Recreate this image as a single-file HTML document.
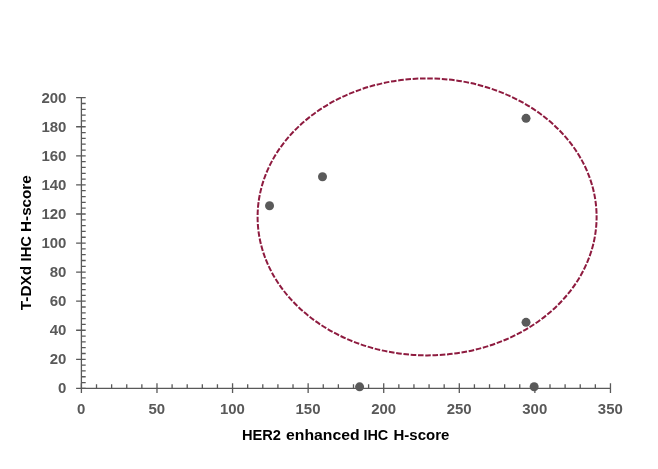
<!DOCTYPE html>
<html lang="en">
<head>
<meta charset="utf-8">
<title>HER2 enhanced IHC H-score vs T-DXd IHC H-score</title>
<style>
html,body{margin:0;padding:0;background:#fff;}
body{width:658px;height:469px;overflow:hidden;}
svg{display:block;}
text{font-family:"Liberation Sans",sans-serif;font-weight:bold;}
.tick{font-size:14.3px;fill:#595959;}
.title{font-size:15.3px;fill:#000;}
</style>
</head>
<body>
<svg width="658" height="469" viewBox="0 0 658 469">
<rect x="0" y="0" width="658" height="469" fill="#ffffff"/>
<g stroke="#595959" stroke-width="1.3" fill="none">
<line x1="81.40" y1="97.70" x2="81.40" y2="388.40"/>
<line x1="81.40" y1="388.40" x2="610.46" y2="388.40"/>
<path d="M76.10 388.40H85.70M81.40 382.59H85.70M81.40 376.77H85.70M81.40 370.96H85.70M81.40 365.14H85.70M76.10 359.33H85.70M81.40 353.52H85.70M81.40 347.70H85.70M81.40 341.89H85.70M81.40 336.07H85.70M76.10 330.26H85.70M81.40 324.45H85.70M81.40 318.63H85.70M81.40 312.82H85.70M81.40 307.00H85.70M76.10 301.19H85.70M81.40 295.38H85.70M81.40 289.56H85.70M81.40 283.75H85.70M81.40 277.93H85.70M76.10 272.12H85.70M81.40 266.31H85.70M81.40 260.49H85.70M81.40 254.68H85.70M81.40 248.86H85.70M76.10 243.05H85.70M81.40 237.24H85.70M81.40 231.42H85.70M81.40 225.61H85.70M81.40 219.79H85.70M76.10 213.98H85.70M81.40 208.17H85.70M81.40 202.35H85.70M81.40 196.54H85.70M81.40 190.72H85.70M76.10 184.91H85.70M81.40 179.10H85.70M81.40 173.28H85.70M81.40 167.47H85.70M81.40 161.65H85.70M76.10 155.84H85.70M81.40 150.03H85.70M81.40 144.21H85.70M81.40 138.40H85.70M81.40 132.58H85.70M76.10 126.77H85.70M81.40 120.96H85.70M81.40 115.14H85.70M81.40 109.33H85.70M81.40 103.51H85.70M76.10 97.70H85.70M81.40 383.30V393.10M96.52 384.20V388.40M111.63 384.20V388.40M126.75 384.20V388.40M141.86 384.20V388.40M156.98 383.30V393.10M172.10 384.20V388.40M187.21 384.20V388.40M202.33 384.20V388.40M217.44 384.20V388.40M232.56 383.30V393.10M247.68 384.20V388.40M262.79 384.20V388.40M277.91 384.20V388.40M293.02 384.20V388.40M308.14 383.30V393.10M323.26 384.20V388.40M338.37 384.20V388.40M353.49 384.20V388.40M368.60 384.20V388.40M383.72 383.30V393.10M398.84 384.20V388.40M413.95 384.20V388.40M429.07 384.20V388.40M444.18 384.20V388.40M459.30 383.30V393.10M474.42 384.20V388.40M489.53 384.20V388.40M504.65 384.20V388.40M519.76 384.20V388.40M534.88 383.30V393.10M550.00 384.20V388.40M565.11 384.20V388.40M580.23 384.20V388.40M595.34 384.20V388.40M610.46 383.30V393.10"/>
</g>
<g class="tick" text-anchor="end">
<text x="66.4" y="393.30" textLength="8.33" lengthAdjust="spacingAndGlyphs">0</text>
<text x="66.4" y="364.23" textLength="16.66" lengthAdjust="spacingAndGlyphs">20</text>
<text x="66.4" y="335.16" textLength="16.66" lengthAdjust="spacingAndGlyphs">40</text>
<text x="66.4" y="306.09" textLength="16.66" lengthAdjust="spacingAndGlyphs">60</text>
<text x="66.4" y="277.02" textLength="16.66" lengthAdjust="spacingAndGlyphs">80</text>
<text x="66.4" y="247.95" textLength="24.99" lengthAdjust="spacingAndGlyphs">100</text>
<text x="66.4" y="218.88" textLength="24.99" lengthAdjust="spacingAndGlyphs">120</text>
<text x="66.4" y="189.81" textLength="24.99" lengthAdjust="spacingAndGlyphs">140</text>
<text x="66.4" y="160.74" textLength="24.99" lengthAdjust="spacingAndGlyphs">160</text>
<text x="66.4" y="131.67" textLength="24.99" lengthAdjust="spacingAndGlyphs">180</text>
<text x="66.4" y="102.60" textLength="24.99" lengthAdjust="spacingAndGlyphs">200</text>
</g>
<g class="tick" text-anchor="middle">
<text x="81.30" y="413.8" textLength="8.33" lengthAdjust="spacingAndGlyphs">0</text>
<text x="156.88" y="413.8" textLength="16.66" lengthAdjust="spacingAndGlyphs">50</text>
<text x="232.46" y="413.8" textLength="24.99" lengthAdjust="spacingAndGlyphs">100</text>
<text x="308.04" y="413.8" textLength="24.99" lengthAdjust="spacingAndGlyphs">150</text>
<text x="383.62" y="413.8" textLength="24.99" lengthAdjust="spacingAndGlyphs">200</text>
<text x="459.20" y="413.8" textLength="24.99" lengthAdjust="spacingAndGlyphs">250</text>
<text x="534.78" y="413.8" textLength="24.99" lengthAdjust="spacingAndGlyphs">300</text>
<text x="610.36" y="413.8" textLength="24.99" lengthAdjust="spacingAndGlyphs">350</text>
</g>
<g class="title">
<text x="241.95" y="439.8" textLength="39.07" lengthAdjust="spacingAndGlyphs">HER2</text>
<text x="286.07" y="439.8" textLength="73.50" lengthAdjust="spacingAndGlyphs">enhanced</text>
<text x="363.46" y="439.8" textLength="24.83" lengthAdjust="spacingAndGlyphs">IHC</text>
<text x="393.53" y="439.8" textLength="55.78" lengthAdjust="spacingAndGlyphs">H-score</text>
</g>
<g class="title" transform="translate(31.0 0) rotate(-90)">
<text x="-310.25" y="0" textLength="44.31" lengthAdjust="spacingAndGlyphs">T-DXd</text>
<text x="-261.46" y="0" textLength="25.36" lengthAdjust="spacingAndGlyphs">IHC</text>
<text x="-231.89" y="0" textLength="56.60" lengthAdjust="spacingAndGlyphs">H-score</text>
</g>
<ellipse cx="427.1" cy="216.9" rx="169.5" ry="138.5" fill="none" stroke="#8e1b3f" stroke-width="2" stroke-dasharray="5.594 1.7" stroke-dashoffset="2"/>
<g fill="#5a5a5a">
<circle cx="269.55" cy="205.80" r="4.5"/>
<circle cx="322.50" cy="176.80" r="4.5"/>
<circle cx="526.05" cy="118.35" r="4.5"/>
<circle cx="526.05" cy="322.35" r="4.5"/>
<circle cx="359.60" cy="386.85" r="4.5"/>
<circle cx="534.15" cy="386.75" r="4.5"/>
</g>
</svg>
</body>
</html>
